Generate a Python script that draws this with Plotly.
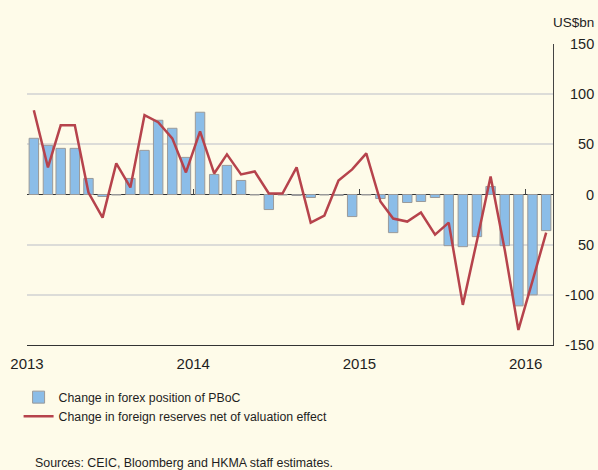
import plotly.graph_objects as go

months = [f"{y}-{m:02d}-16" for y in (2013, 2014, 2015) for m in range(1, 13)] + ["2016-01-16", "2016-02-15"]

forex_pboc = [56, 49, 46, 46, 16, -2, -0.5, 16, 44, 74, 66, 37,
              82, 20, 29, 14, -0.5, -15, -0.5, -1, -3, -0.5, -1, -22,
              -0.5, -4, -38, -8, -7, -3, -51, -52, -42, 8, -51, -111,
              -100, -36]

reserves_net = [84, 27, 69, 69, 2, -23, 31, 7, 79, 72, 56, 22,
                63, 21, 40, 20, 23, 1, 1, 27, -28, -21, 14, 25,
                41, -7, -24, -27, -18, -40, -28, -110, -46, 18, -55, -135,
                -86, -38]

year_ticks = ["2013-01-01", "2014-01-01", "2015-01-01", "2016-01-01"]
year_labels = ["2013", "2014", "2015", "2016"]
y_ticks = [150, 100, 50, 0, -50, -100, -150]
y_labels = ["150", "100", "50", "0", "50", "-100", "-150"]

BG = "#FEFBE9"
FONT = "Liberation Sans, Arial, sans-serif"
TXT = "#1E1E1E"

fig = go.Figure()
fig.add_trace(go.Bar(
    x=months, y=forex_pboc, name="Change in forex position of PBoC",
    marker=dict(color="#8BBDE8", line=dict(color="#9A9A9A", width=1)),
))
fig.add_trace(go.Scatter(
    x=months, y=reserves_net, mode="lines",
    name="Change in foreign reserves net of valuation effect",
    line=dict(color="#B6434C", width=2.5),
    xaxis="x2",
))

x_range = ["2013-01-01", "2016-03-01"]
fig.update_layout(
    width=598, height=470,
    paper_bgcolor=BG, plot_bgcolor=BG,
    margin=dict(l=27, r=45, t=44, b=125, autoexpand=False),
    font=dict(family=FONT, size=13, color=TXT),
    bargap=0.26,
    showlegend=True,
    legend=dict(x=-0.016, y=-0.125, xanchor="left", yanchor="top",
                bgcolor="rgba(0,0,0,0)", font=dict(size=12.3, color=TXT),
                tracegroupgap=2, itemwidth=30),
    xaxis=dict(type="date", range=x_range, tickvals=year_ticks, ticktext=year_labels,
               showgrid=False, zeroline=False, showline=True, linecolor="#333333",
               linewidth=1.2, ticks="", ticklabelstandoff=5,
               tickfont=dict(size=15, color=TXT)),
    xaxis2=dict(type="date", range=x_range, overlaying="x", anchor="free", position=0.5,
                side="bottom", tickvals=year_ticks, showticklabels=False, ticks="inside",
                ticklen=6, tickcolor="#444444", tickwidth=1, showgrid=False, zeroline=False,
                showline=False),
    yaxis=dict(range=[-150, 150], side="right", tickvals=[100, 50, -50, -100],
               showticklabels=False, showgrid=True, gridcolor="#DCDCD8", gridwidth=1.5,
               zeroline=True, zerolinecolor="#333333", zerolinewidth=1.2,
               showline=True, linecolor="#444444", linewidth=1.2, ticks=""),
)

for v, t in zip(y_ticks, y_labels):
    fig.add_annotation(x=1.0, xref="paper", xshift=43, y=v, yref="y", text=t,
                       showarrow=False, xanchor="right", yanchor="middle",
                       font=dict(size=14.5, color=TXT))

fig.add_annotation(x=1.0, xref="paper", xshift=43, y=1.0, yref="paper", yshift=22,
                   text="US$bn", showarrow=False, xanchor="right", yanchor="middle",
                   font=dict(size=13.5, color=TXT))
fig.add_annotation(x=0.0, xref="paper", xshift=6, y=0, yref="paper", yshift=-118,
                   text="Sources: CEIC, Bloomberg and HKMA staff estimates.",
                   showarrow=False, xanchor="left", yanchor="middle",
                   font=dict(size=12.4, color=TXT))

fig.write_html(
    "out.html",
    config={"displayModeBar": False},
    post_script="document.body.style.margin='0';document.body.style.padding='0';"
                "document.body.style.background='" + BG + "';",
)
